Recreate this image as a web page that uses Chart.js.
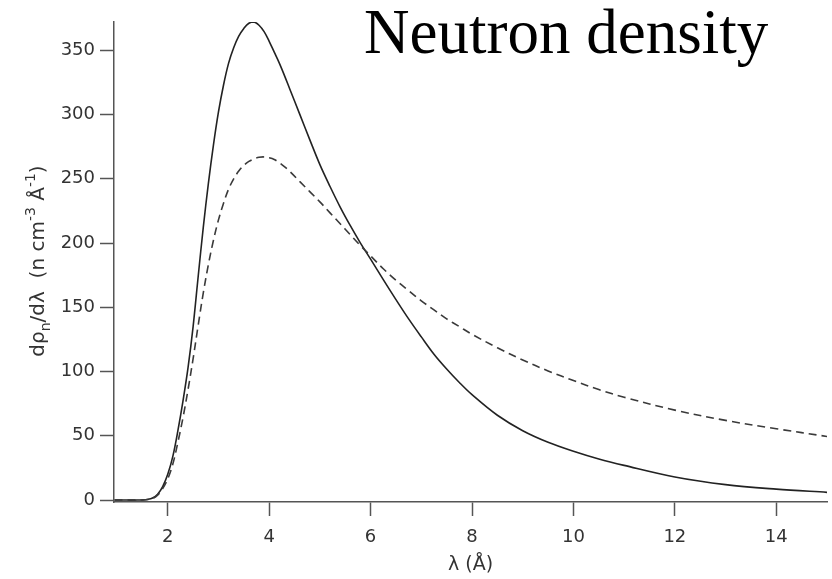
<!DOCTYPE html>
<html><head><meta charset="utf-8">
<script src="https://cdn.jsdelivr.net/npm/chart.js@4"></script>
<style>html,body{margin:0;padding:0;background:#fff}canvas{display:block}</style>
</head><body>
<canvas id="c" width="832" height="579"></canvas>
<script>
// ---- data ----
const wavelengths = [0.95, 1.2, 1.4, 1.5, 1.6, 1.7, 1.8, 1.9, 2.0, 2.1, 2.2, 2.3, 2.4, 2.5, 2.6, 2.7, 2.8, 2.9, 3.0, 3.1, 3.2, 3.3, 3.4, 3.5, 3.6, 3.7, 3.8, 3.9, 4.0, 4.1, 4.2, 4.3, 4.4, 4.6, 4.8, 5.0, 5.2, 5.4, 5.6, 5.8, 6.0, 6.25, 6.5, 6.75, 7.0, 7.25, 7.5, 7.75, 8.0, 8.5, 9.0, 9.5, 10, 10.5, 11, 12, 13, 14, 15];
const solidDensity = [0, 0, 0, 0.1, 0.5, 1.6, 4.5, 10.5, 20, 34, 54, 77, 103, 135, 174, 212, 246, 276, 302, 323, 340, 352, 361, 367, 371, 372, 369.5, 364.5, 357, 348.5, 340, 330.5, 320.5, 300.5, 280.5, 261, 244, 228, 213.5, 200, 187.5, 171.5, 156, 141, 127, 113.5, 102, 91.5, 82, 66, 54, 45, 38, 32, 27, 18, 12, 8.5, 6];
const dashedDensity = [0, 0, 0, 0.1, 0.4, 1.2, 3.8, 9, 16.5, 28, 45, 64, 86, 110, 136, 161, 183, 202, 218, 231, 242, 250, 256, 260.5, 263.5, 265.5, 266.7, 267, 266.3, 265, 262.5, 259.5, 256, 248, 240, 232, 223.5, 215, 206.5, 198, 190, 180, 171, 163, 155, 148, 141, 135, 129, 118.5, 109, 100.5, 93, 86, 80, 70, 62, 55.5, 49.5];
const xTickStep = 2;
const yTickStep = 50;
const chartTitle = 'Neutron density';
const xAxisTitle = 'λ (Å)';
const yAxisTitleParts = [
  {t: 'dρ'}, {t: 'n', sub: true}, {t: '/dλ  (n cm'}, {t: '-3', sup: true},
  {t: ' Å'}, {t: '-1', sup: true}, {t: ')'}
];

const toPoints = (xs, ys) => xs.map((x, i) => ({x: x, y: ys[i]}));

const overlay = {
  id: 'overlay',
  afterDraw(chart) {
    const ctx = chart.ctx;
    ctx.save();
    ctx.fillStyle = '#000';
    ctx.font = '63px "Liberation Serif"';
    ctx.textBaseline = 'alphabetic';
    ctx.textAlign = 'left';
    ctx.fillText(chartTitle, 364, 53);
    ctx.restore();

    ctx.save();
    const base = 20;
    const fontFor = p => ((p.sub || p.sup) ? Math.round(base * 0.7) : base) + 'px "DejaVu Sans"';
    ctx.fillStyle = '#333';
    ctx.textBaseline = 'alphabetic';
    ctx.textAlign = 'left';
    let total = 0;
    yAxisTitleParts.forEach(p => { ctx.font = fontFor(p); total += ctx.measureText(p.t).width; });
    ctx.translate(44, 261);
    ctx.rotate(-Math.PI / 2);
    let x = -total / 2;
    yAxisTitleParts.forEach(p => {
      ctx.font = fontFor(p);
      const dy = p.sub ? base * 0.28 : (p.sup ? -base * 0.45 : 0);
      ctx.fillText(p.t, x, dy);
      x += ctx.measureText(p.t).width;
    });
    ctx.restore();
  }
};

Chart.defaults.font.family = '"DejaVu Sans"';

new Chart(document.getElementById('c'), {
  type: 'line',
  data: {
    datasets: [
      {
        data: toPoints(wavelengths, dashedDensity),
        borderColor: '#3a3a3a', borderWidth: 1.6, borderDash: [8, 5],
        pointRadius: 0, fill: false, tension: 0.35
      },
      {
        data: toPoints(wavelengths, solidDensity),
        borderColor: '#222', borderWidth: 1.6,
        pointRadius: 0, fill: false, tension: 0.35
      }
    ]
  },
  options: {
    responsive: false,
    animation: false,
    devicePixelRatio: 1,
    layout: {padding: {top: 22, right: 5, left: 0, bottom: 0}},
    plugins: {legend: {display: false}, tooltip: {enabled: false}},
    scales: {
      x: {
        type: 'linear', min: 0.94, max: 15,
        afterFit: s => { s.height = 77; },
        ticks: {stepSize: xTickStep, includeBounds: false, color: '#333', font: {size: 18}, padding: 11, maxRotation: 0},
        grid: {display: true, drawOnChartArea: false, drawTicks: true, tickLength: 14, tickColor: '#555', tickWidth: 1.5},
        border: {display: true, color: '#555', width: 1.5},
        title: {display: true, text: xAxisTitle, color: '#333', font: {size: 19}, padding: {top: 0, bottom: 3}}
      },
      y: {
        type: 'linear', min: -1.5, max: 372,
        afterFit: s => { s.width = 114; },
        ticks: {stepSize: yTickStep, includeBounds: false, color: '#333', font: {size: 18}, padding: 5},
        grid: {display: true, drawOnChartArea: false, drawTicks: true, tickLength: 14, tickColor: '#555', tickWidth: 1.5},
        border: {display: true, color: '#555', width: 1.5}
      }
    }
  },
  plugins: [overlay]
});
</script>
</body></html>
